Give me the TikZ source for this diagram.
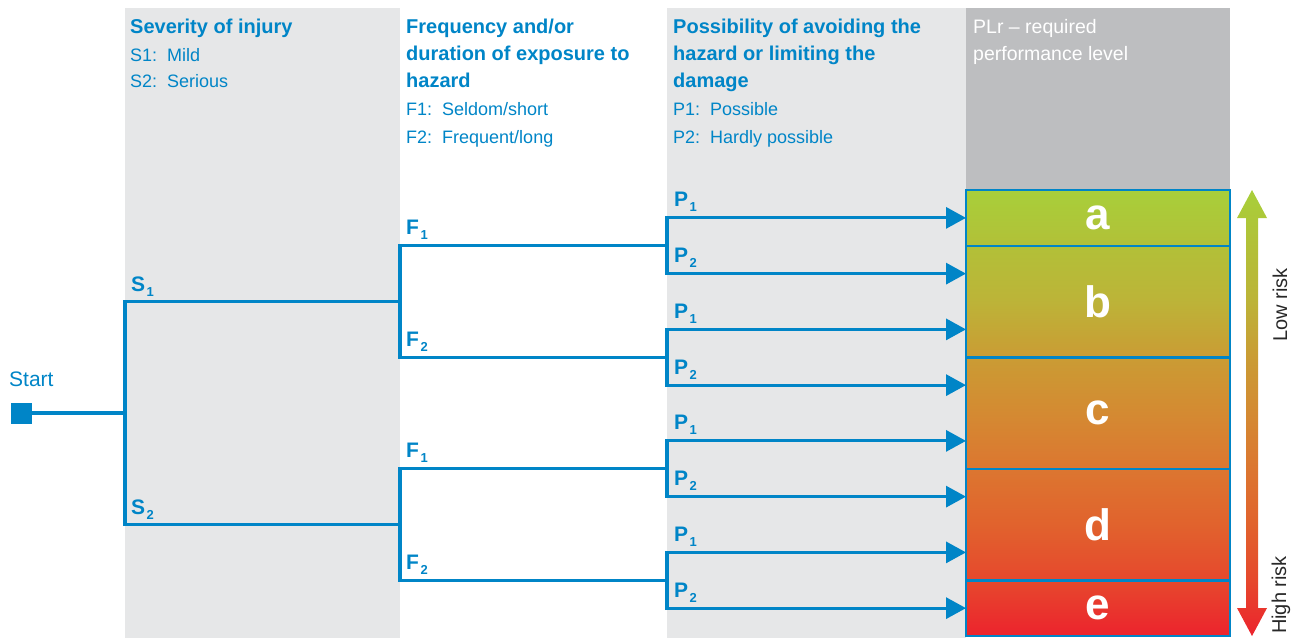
\documentclass[tikz,border=0pt]{standalone}
\usepackage{fontspec}
\setmainfont{Liberation Sans}
\usetikzlibrary{arrows.meta}
\definecolor{sblue}{RGB}{0,133,199}
\definecolor{lgray}{RGB}{230,231,232}
\definecolor{dgray}{RGB}{189,190,192}
\definecolor{riskc}{RGB}{40,40,40}
\definecolor{q0}{RGB}{236,35,45}
\definecolor{q1}{RGB}{230,72,45}
\definecolor{q2}{RGB}{225,98,45}
\definecolor{q3}{RGB}{220,118,48}
\definecolor{q4}{RGB}{212,138,50}
\definecolor{q5}{RGB}{202,156,52}
\definecolor{q6}{RGB}{188,180,56}
\definecolor{q7}{RGB}{178,192,56}
\definecolor{q8}{RGB}{168,207,58}
\pgfdeclareverticalshading{plr}{100bp}{color(0bp)=(q0); color(25bp)=(q0); color(31.2bp)=(q1); color(37.4bp)=(q2); color(43.7bp)=(q3); color(50bp)=(q4); color(56.3bp)=(q5); color(62.7bp)=(q6); color(68.7bp)=(q7); color(75bp)=(q8); color(100bp)=(q8)}
\newcommand{\lab}[2]{#1\kern1.5pt\raisebox{-5pt}{\fontsize{13}{13}\selectfont #2}}
\begin{document}
\begin{tikzpicture}[x=1pt,y=-1pt,
  hdr/.style={anchor=base west, inner sep=0, text=sblue, font=\fontsize{20}{24}\selectfont\bfseries},
  body/.style={anchor=base west, inner sep=0, text=sblue, font=\fontsize{18}{22}\selectfont},
  plrhdr/.style={anchor=base west, inner sep=0, text=white, font=\fontsize{19.5}{24}\selectfont},
  lbl/.style={anchor=base west, inner sep=0, text=sblue, font=\fontsize{21}{21}\selectfont\bfseries},
  conn/.style={draw=sblue, line width=3.2pt, line join=miter},
  arr/.style={conn, -{Triangle[length=20pt,width=21pt]}},
  plbox/.style={draw=sblue, line width=2.5pt, minimum width=264pt, inner sep=0, outer sep=0, text=white, font=\fontsize{44}{44}\selectfont\bfseries},
  risk/.style={rotate=90, inner sep=0, text=riskc, font=\fontsize{20}{20}\selectfont}]
\useasboundingbox (0,0) rectangle (1298,638);
% backgrounds
\fill[lgray] (125,8) rectangle (400,638);
\fill[lgray] (667,8) rectangle (966,638);
\fill[dgray] (966,8) rectangle (1230,190);
% headers
\node[hdr] (h1) at (130,33) {Severity of injury};
\node[body] (h1a) at (130,61) {S1:\hspace{10pt}Mild};
\node[body] (h1b) at (130,87) {S2:\hspace{10pt}Serious};
\node[hdr] (h2a) at (406,33) {Frequency and/or};
\node[hdr] (h2b) at (406,60) {duration of exposure to};
\node[hdr] (h2c) at (406,87) {hazard};
\node[body] (h2d) at (406,115) {F1:\hspace{10pt}Seldom/short};
\node[body] (h2e) at (406,143) {F2:\hspace{10pt}Frequent/long};
\node[hdr] (h3a) at (673,33) {Possibility of avoiding the};
\node[hdr] (h3b) at (673,60) {hazard or limiting the};
\node[hdr] (h3c) at (673,87) {damage};
\node[body] (h3d) at (673,115) {P1:\hspace{10pt}Possible};
\node[body] (h3e) at (673,143) {P2:\hspace{10pt}Hardly possible};
\node[plrhdr] (h4a) at (973,33) {PLr – required};
\node[plrhdr] (h4b) at (973,60) {performance level};
% start
\node[anchor=base west, inner sep=0, text=sblue, font=\fontsize{21}{21}\selectfont] (stxt) at (9,386) {Start};
\node[fill=sblue, minimum size=21pt, inner sep=0, outer sep=0] (start) at (21.5,413) {};
% coordinates
\coordinate (J0) at (125,413);
\coordinate (S1) at (125,301.5);
\coordinate (S2) at (125,524.5);
\coordinate (FA) at (400,301.5);
\coordinate (FB) at (400,524.5);
\coordinate (FA1) at (400,245.75);
\coordinate (FA2) at (400,357.25);
\coordinate (FB1) at (400,468.75);
\coordinate (FB2) at (400,580.25);
\coordinate (PA) at (667,245.75);
\coordinate (PB) at (667,357.25);
\coordinate (PC) at (667,468.75);
\coordinate (PD) at (667,580.25);
\foreach \k/\y in {1/217.875,2/273.625,3/329.375,4/385.125,5/440.875,6/496.625,7/552.375,8/608.125}{
  \coordinate (P\k) at (667,\y);
  \coordinate (E\k) at (966,\y);
}
% gradient
\shade[shading=plr] (966,190) rectangle (1230,636);
\shade[shading=plr] (1252,190) -- (1267,218) -- (1258,218) -- (1258,608) -- (1267,608) -- (1252,636) -- (1237,608) -- (1246,608) -- (1246,218) -- (1237,218) -- cycle;
% boxes
\node[plbox, minimum height=55.75pt] (ba) at (1098,217.875) {a};
\node[plbox, minimum height=111.5pt] (bb) at (1098,301.5) {b};
\node[plbox, minimum height=111.5pt] (bc) at (1098,413) {c};
\node[plbox, minimum height=111.5pt] (bd) at (1098,524.5) {d};
\node[plbox, minimum height=55.75pt] (be) at (1098,608.125) {e};
% connectors
\draw[conn] (start.east) -- (J0);
\draw[conn] (FA) -- (S1) -- (S2) -- (FB);
\draw[conn] (PA) -- (FA1) -- (FA2) -- (PB);
\draw[conn] (PC) -- (FB1) -- (FB2) -- (PD);
\draw[arr] (PA) -- (P1) -- (E1);
\draw[arr] (PA) -- (P2) -- (E2);
\draw[arr] (PB) -- (P3) -- (E3);
\draw[arr] (PB) -- (P4) -- (E4);
\draw[arr] (PC) -- (P5) -- (E5);
\draw[arr] (PC) -- (P6) -- (E6);
\draw[arr] (PD) -- (P7) -- (E7);
\draw[arr] (PD) -- (P8) -- (E8);
% labels
\node[lbl] (ls1) at (131,291) {\lab{S}{1}};
\node[lbl] (ls2) at (131,514) {\lab{S}{2}};
\node[lbl] (lf1) at (406,234.5) {\lab{F}{1}};
\node[lbl] (lf2) at (406,346) {\lab{F}{2}};
\node[lbl] (lf3) at (406,457.5) {\lab{F}{1}};
\node[lbl] (lf4) at (406,569) {\lab{F}{2}};
\foreach \k/\y/\s in {1/217.875/1,2/273.625/2,3/329.375/1,4/385.125/2,5/440.875/1,6/496.625/2,7/552.375/1,8/608.125/2}{
  \node[lbl] (lp\k) at (674,\y-11) {\lab{P}{\s}};
}
% risk labels
\node[risk] (low) at (1280,305) {Low risk};
\node[risk] (high) at (1281,595) {High risk};
\end{tikzpicture}
\end{document}
